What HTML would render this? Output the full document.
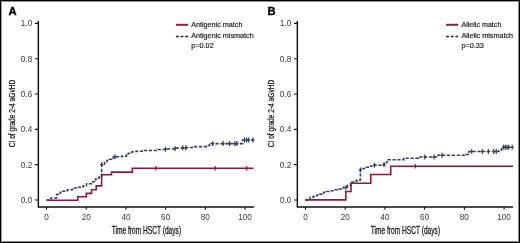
<!DOCTYPE html>
<html><head><meta charset="utf-8"><style>
html,body{margin:0;padding:0;background:#fff;}
svg{display:block;will-change:transform;}
text{font-family:"Liberation Sans", sans-serif;}
</style></head><body>
<svg width="520" height="243" viewBox="0 0 520 243">
<rect x="0" y="0" width="520" height="243" fill="#fff"/>
<rect x="1" y="1" width="1" height="241" fill="#a0a0a0"/>
<rect x="1" y="1" width="518" height="1" fill="#909090"/>
<rect x="518" y="1" width="1" height="241" fill="#888"/>
<rect x="1" y="241" width="518" height="1" fill="#888"/>
<rect x="0" y="0" width="1" height="243" fill="#000"/>
<rect x="0" y="0" width="520" height="1" fill="#000"/>
<rect x="519" y="0" width="1" height="243" fill="#000"/>
<rect x="0" y="242" width="520" height="1" fill="#000"/>
<g transform="translate(0,0)">
<text x="8.4" y="15.3" font-size="11.2" font-weight="bold" fill="#000" stroke="#000" stroke-width="0.35">A</text>
<path d="M38.35,21 V207.7 M37.65,206.95 H254" stroke="#111" stroke-width="1.45" fill="none"/>
<path d="M35,200.00 H38.4 M35,164.67 H38.4 M35,129.34 H38.4 M35,94.01 H38.4 M35,58.68 H38.4 M35,23.35 H38.4 M46.50,207 V209.8 M86.22,207 V209.8 M125.94,207 V209.8 M165.66,207 V209.8 M205.38,207 V209.8 M245.10,207 V209.8" stroke="#111" stroke-width="1.1" fill="none"/>
<text x="32.2" y="202.90" font-size="8.2" text-anchor="end" fill="#3a3a3a">0.0</text>
<text x="32.2" y="167.57" font-size="8.2" text-anchor="end" fill="#3a3a3a">0.2</text>
<text x="32.2" y="132.24" font-size="8.2" text-anchor="end" fill="#3a3a3a">0.4</text>
<text x="32.2" y="96.91" font-size="8.2" text-anchor="end" fill="#3a3a3a">0.6</text>
<text x="32.2" y="61.58" font-size="8.2" text-anchor="end" fill="#3a3a3a">0.8</text>
<text x="32.2" y="26.25" font-size="8.2" text-anchor="end" fill="#3a3a3a">1.0</text>
<text x="46.50" y="219.8" font-size="8.2" text-anchor="middle" fill="#3a3a3a">0</text>
<text x="86.22" y="219.8" font-size="8.2" text-anchor="middle" fill="#3a3a3a">20</text>
<text x="125.94" y="219.8" font-size="8.2" text-anchor="middle" fill="#3a3a3a">40</text>
<text x="165.66" y="219.8" font-size="8.2" text-anchor="middle" fill="#3a3a3a">60</text>
<text x="205.38" y="219.8" font-size="8.2" text-anchor="middle" fill="#3a3a3a">80</text>
<text x="245.10" y="219.8" font-size="8.2" text-anchor="middle" fill="#3a3a3a">100</text>
<text x="146.4" y="233.8" font-size="10.2" text-anchor="middle" textLength="69.4" lengthAdjust="spacingAndGlyphs" fill="#1a1a1a" stroke="#1a1a1a" stroke-width="0.3">Time from HSCT (days)</text>
<text transform="translate(15.2,113.5) rotate(-90)" x="0" y="0" font-size="9.8" text-anchor="middle" textLength="67.5" lengthAdjust="spacingAndGlyphs" fill="#1a1a1a" stroke="#1a1a1a" stroke-width="0.25">CI of grade 2-4 aGvHD</text>
<path d="M175.9,24.8 H188.0" stroke="#88203f" stroke-width="2"/>
<path d="M175.9,36.5 H188.0" stroke="#1c2336" stroke-width="1.5" stroke-dasharray="2.8,1.9"/>
<text x="191.2" y="27.1" font-size="7.3" fill="#1a1a1a" stroke="#1a1a1a" stroke-width="0.18" textLength="51.2" lengthAdjust="spacingAndGlyphs">Antigenic match</text>
<text x="191.2" y="38.4" font-size="7.3" fill="#1a1a1a" stroke="#1a1a1a" stroke-width="0.18" textLength="62.5" lengthAdjust="spacingAndGlyphs">Antigenic mismatch</text>
<text x="191.2" y="47.6" font-size="7.3" fill="#1a1a1a" stroke="#1a1a1a" stroke-width="0.18">p=0.02</text>
<path d="M46.5,200.0 H51 V197.9 H56.6 V194.5 H58 V193.2 H60.5 V192.2 H62 V191.2 H65.5 V190.6 H67.5 V189.7 H72.5 V188 H77.5 V187.2 H83 V185.8 H86.5 V183.7 H91.5 V181.8 H95.5 V179 H99 V177 H101.7 V164.2 H104.5 V162.5 H107 V160.5 H109.5 V159.2 H111.5 V158 H113.5 V156.8 H121.5 V156.2 H126.5 V154.8 H128.3 V153.3 H132 V151.8 H136 V151.3 H144.5 V150.4 H157 V149.4 H167 V149 H175.5 V148 H186 V147.5 H194 V146.6 H207.5 V145.5 H209.5 V144.5 H211 V143.6 H242.6 V140 H253.3" stroke="#2f3e5e" stroke-width="1.55" fill="none" stroke-dasharray="3.2,1.7"/>
<path d="M101.7,162.1 V167.1 M100.1,164.6 H103.3 M115.0,154.3 V159.3 M113.4,156.8 H116.6 M165.5,146.7 V151.7 M163.9,149.2 H167.1 M175.1,145.9 V150.9 M173.5,148.4 H176.7 M182.8,145.3 V150.3 M181.2,147.8 H184.4 M185.8,145.3 V150.3 M184.2,147.8 H187.4 M212.7,141.1 V146.1 M211.1,143.6 H214.3 M223.1,141.1 V146.1 M221.5,143.6 H224.7 M229.5,141.1 V146.1 M227.9,143.6 H231.1 M234.8,141.1 V146.1 M233.2,143.6 H236.4 M236.8,141.1 V146.1 M235.2,143.6 H238.4 M244.6,137.5 V142.5 M243.0,140.0 H246.2 M246.6,137.5 V142.5 M245.0,140.0 H248.2 M248.6,137.5 V142.5 M247.0,140.0 H250.2 M253.0,137.5 V142.5 M251.4,140.0 H254.6" stroke="#2f3e5e" stroke-width="1.2" fill="none"/>
<path d="M46.5,200.2 H77.8 V196.8 H86.3 V193.4 H91.6 V189.7 H96.2 V185.9 H101.6 V174.8 H111.5 V172.1 H132.3 V168.2 H253.6" stroke="#881b3d" stroke-width="1.6" fill="none"/>
<path d="M155.8,165.9 V170.5 M215.2,165.9 V170.5 M246.7,165.9 V170.5" stroke="#881b3d" stroke-width="1.2" fill="none"/>
</g>
<g transform="translate(259,0)">
<text x="8.4" y="15.3" font-size="11.2" font-weight="bold" fill="#000" stroke="#000" stroke-width="0.35">B</text>
<path d="M38.35,21 V207.7 M37.65,206.95 H254" stroke="#111" stroke-width="1.45" fill="none"/>
<path d="M35,200.00 H38.4 M35,164.67 H38.4 M35,129.34 H38.4 M35,94.01 H38.4 M35,58.68 H38.4 M35,23.35 H38.4 M46.50,207 V209.8 M86.22,207 V209.8 M125.94,207 V209.8 M165.66,207 V209.8 M205.38,207 V209.8 M245.10,207 V209.8" stroke="#111" stroke-width="1.1" fill="none"/>
<text x="32.2" y="202.90" font-size="8.2" text-anchor="end" fill="#3a3a3a">0.0</text>
<text x="32.2" y="167.57" font-size="8.2" text-anchor="end" fill="#3a3a3a">0.2</text>
<text x="32.2" y="132.24" font-size="8.2" text-anchor="end" fill="#3a3a3a">0.4</text>
<text x="32.2" y="96.91" font-size="8.2" text-anchor="end" fill="#3a3a3a">0.6</text>
<text x="32.2" y="61.58" font-size="8.2" text-anchor="end" fill="#3a3a3a">0.8</text>
<text x="32.2" y="26.25" font-size="8.2" text-anchor="end" fill="#3a3a3a">1.0</text>
<text x="46.50" y="219.8" font-size="8.2" text-anchor="middle" fill="#3a3a3a">0</text>
<text x="86.22" y="219.8" font-size="8.2" text-anchor="middle" fill="#3a3a3a">20</text>
<text x="125.94" y="219.8" font-size="8.2" text-anchor="middle" fill="#3a3a3a">40</text>
<text x="165.66" y="219.8" font-size="8.2" text-anchor="middle" fill="#3a3a3a">60</text>
<text x="205.38" y="219.8" font-size="8.2" text-anchor="middle" fill="#3a3a3a">80</text>
<text x="245.10" y="219.8" font-size="8.2" text-anchor="middle" fill="#3a3a3a">100</text>
<text x="146.4" y="233.8" font-size="10.2" text-anchor="middle" textLength="69.4" lengthAdjust="spacingAndGlyphs" fill="#1a1a1a" stroke="#1a1a1a" stroke-width="0.3">Time from HSCT (days)</text>
<text transform="translate(15.2,113.5) rotate(-90)" x="0" y="0" font-size="9.8" text-anchor="middle" textLength="67.5" lengthAdjust="spacingAndGlyphs" fill="#1a1a1a" stroke="#1a1a1a" stroke-width="0.25">CI of grade 2-4 aGvHD</text>
<path d="M187.1,24.8 H199.2" stroke="#88203f" stroke-width="2"/>
<path d="M187.1,36.5 H199.2" stroke="#1c2336" stroke-width="1.5" stroke-dasharray="2.8,1.9"/>
<text x="202.4" y="27.1" font-size="7.3" fill="#1a1a1a" stroke="#1a1a1a" stroke-width="0.18" textLength="40" lengthAdjust="spacingAndGlyphs">Allelic match</text>
<text x="202.4" y="38.4" font-size="7.3" fill="#1a1a1a" stroke="#1a1a1a" stroke-width="0.18" textLength="51.6" lengthAdjust="spacingAndGlyphs">Allelic mismatch</text>
<text x="202.4" y="47.6" font-size="7.3" fill="#1a1a1a" stroke="#1a1a1a" stroke-width="0.18">p=0.33</text>
<path d="M46.3,199.9 L51.0,199.9 L51.0,197.4 L54.0,197.4 L54.0,196.5 L57.5,196.5 L57.5,195.3 L60.5,195.3 L60.5,194.3 L62.5,194.3 L62.5,193.2 L64.5,193.2 L64.5,192.2 L67.5,192.2 L67.5,191.5 L71.0,191.5 L71.0,190.8 L75.0,190.8 L75.0,189.8 L78.5,189.8 L78.5,188.9 L82.0,188.9 L82.0,188.0 L85.0,188.0 L85.0,187.0 L88.5,187.0 L88.5,185.5 L91.5,185.5 L91.5,182.0 L95.0,182.0 L95.0,181.0 L98.0,181.0 L98.0,180.0 L101.4,180.0 L101.4,169.6 L104.0,169.6 L104.0,168.5 L107.5,168.5 L107.5,167.3 L110.5,167.3 L110.5,166.3 L113.0,166.3 L113.0,165.2 L125.0,165.2 L125.0,163.8 L127.5,163.8 L127.5,162.0 L129.3,162.0 L129.3,159.7 L144.8,159.7 L144.8,158.2 L159.5,158.2 L159.5,157.0 L179.0,157.0 L179.0,155.3 L207.0,155.3 L207.0,154.5 L210.0,154.5 L210.0,151.5 L240.0,151.5 L240.0,150.2 L242.5,150.2 L242.5,147.3 L253.4,147.3" stroke="#2f3e5e" stroke-width="1.55" fill="none" stroke-dasharray="3.2,1.7"/>
<path d="M87.1,185.0 V190.0 M85.5,187.5 H88.7 M101.4,167.5 V172.5 M99.8,170.0 H103.0 M115.5,162.7 V167.7 M113.9,165.2 H117.1 M125.0,162.3 V167.3 M123.4,164.8 H126.6 M165.8,154.5 V159.5 M164.2,157.0 H167.4 M175.0,154.5 V159.5 M173.4,157.0 H176.6 M183.1,152.8 V157.8 M181.5,155.3 H184.7 M212.7,149.0 V154.0 M211.1,151.5 H214.3 M223.3,149.0 V154.0 M221.7,151.5 H224.9 M229.3,149.0 V154.0 M227.7,151.5 H230.9 M234.8,149.0 V154.0 M233.2,151.5 H236.4 M237.2,149.0 V154.0 M235.6,151.5 H238.8 M244.5,144.8 V149.8 M242.9,147.3 H246.1 M246.3,144.8 V149.8 M244.7,147.3 H247.9 M248.0,144.8 V149.8 M246.4,147.3 H249.6 M249.6,144.8 V149.8 M248.0,147.3 H251.2 M253.2,144.8 V149.8 M251.6,147.3 H254.8" stroke="#2f3e5e" stroke-width="1.2" fill="none"/>
<path d="M46.3,199.9 H86.8 V191.5 H92 V183.3 H111.8 V174.5 H131.7 V166.3 H254" stroke="#881b3d" stroke-width="1.6" fill="none"/>
<path d="M156.3,164.0 V168.6" stroke="#881b3d" stroke-width="1.2" fill="none"/>
</g>
</svg>
</body></html>
